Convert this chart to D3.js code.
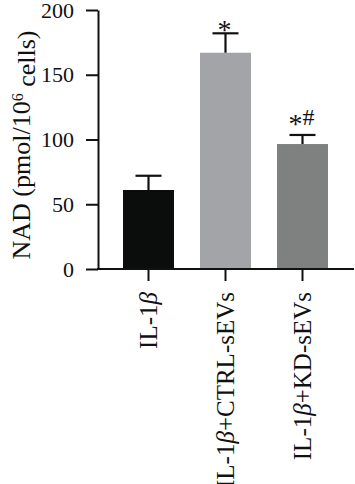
<!DOCTYPE html>
<html>
<head>
<meta charset="utf-8">
<script src="https://cdn.jsdelivr.net/npm/d3@7"></script>
<style>
  body { margin: 0; background: #fff; }
  svg { display: block; font-family: "Liberation Serif", "DejaVu Serif", serif; }
</style>
</head>
<body>
<div id="chart"></div>
<script>
// data
const categories = ["IL-1β", "IL-1β+CTRL-sEVs", "IL-1β+KD-sEVs"];
const means = [61, 167, 96.5];
const errors = [11, 15, 7];
const marks = ["", "*", "*#"];
const yTicks = [0, 50, 100, 150, 200];
const barColors = ["#0b0d0d", "#a2a4a7", "#7f8180"];

const width = 355, height = 484;

const svg = d3.select("#chart").append("svg")
  .attr("width", width)
  .attr("height", height);

const y = d3.scaleLinear().domain([0, 200]).range([269, 10]);

const x = d3.scaleBand()
  .domain(categories)
  .range([110, 341])
  .paddingInner(0.338)
  .paddingOuter(0.169);

// bars
svg.selectAll("rect.bar")
  .data(categories)
  .join("rect")
  .attr("class", "bar")
  .attr("x", d => x(d))
  .attr("width", x.bandwidth())
  .attr("y", (d, i) => y(means[i]))
  .attr("height", (d, i) => y(0) - y(means[i]))
  .attr("fill", (d, i) => barColors[i]);

// error bars (upper only)
const capW = 26;
const err = svg.selectAll("g.err")
  .data(categories)
  .join("g")
  .attr("class", "err")
  .attr("stroke", "#111")
  .attr("stroke-width", 2.2);

err.append("line")
  .attr("x1", d => x(d) + x.bandwidth() / 2)
  .attr("x2", d => x(d) + x.bandwidth() / 2)
  .attr("y1", (d, i) => y(means[i]))
  .attr("y2", (d, i) => y(means[i] + errors[i]));

err.append("line")
  .attr("x1", d => x(d) + x.bandwidth() / 2 - capW / 2)
  .attr("x2", d => x(d) + x.bandwidth() / 2 + capW / 2)
  .attr("y1", (d, i) => y(means[i] + errors[i]))
  .attr("y2", (d, i) => y(means[i] + errors[i]));

// significance marks; the asterisk glyph is dropped a bit so it sits on the baseline
svg.selectAll("text.mark")
  .data(categories)
  .join("text")
  .attr("class", "mark")
  .attr("x", d => x(d) + x.bandwidth() / 2 - 1)
  .attr("y", (d, i) => y(means[i] + errors[i]) + (marks[i].includes("#") ? -10 : -2))
  .attr("text-anchor", "middle")
  .attr("fill", "#111")
  .each(function(d, i) {
    const t = d3.select(this);
    let shift = 0;
    marks[i].split("").forEach(c => {
      const s = c === "*" ? 8 : 0;
      t.append("tspan")
        .attr("dy", s - shift)
        .style("font-size", c === "*" ? "28px" : "24px")
        .text(c);
      shift = s;
    });
  });

// y axis
const yAxis = svg.append("g")
  .attr("transform", "translate(98,0)")
  .call(d3.axisLeft(y).tickValues(yTicks).tickSize(12).tickSizeOuter(0).tickPadding(12));
yAxis.selectAll("path, line").attr("stroke", "#111").attr("stroke-width", 2);
yAxis.selectAll("text").style("font-size", "22px").attr("fill", "#111")
  .style("font-family", "Liberation Serif, serif");

// x axis
const xAxis = svg.append("g")
  .attr("transform", "translate(0,269)")
  .call(d3.axisBottom(x).tickSize(12).tickSizeOuter(0).tickFormat(""));
xAxis.select(".domain").remove();
xAxis.selectAll("line").attr("stroke", "#111").attr("stroke-width", 2);
svg.append("line")
  .attr("x1", 97).attr("x2", 354)
  .attr("y1", 269).attr("y2", 269)
  .attr("stroke", "#111").attr("stroke-width", 2);

// category labels, rotated, with italic beta
svg.selectAll("text.cat")
  .data(categories)
  .join("text")
  .attr("class", "cat")
  .attr("transform", d => `translate(${x(d) + x.bandwidth() / 2},292) rotate(-90)`)
  .attr("dy", "0.35em")
  .attr("text-anchor", "end")
  .style("font-size", "25px")
  .attr("fill", "#111")
  .each(function(d) {
    const t = d3.select(this);
    const parts = d.split("β");
    parts.forEach((p, k) => {
      if (k > 0) t.append("tspan").style("font-style", "italic").text("β");
      if (p) t.append("tspan").text(p);
    });
  });

// y axis title
const title = svg.append("text")
  .attr("transform", "translate(30,145) rotate(-90)")
  .attr("text-anchor", "middle")
  .style("font-size", "26px")
  .attr("fill", "#111");
title.append("tspan").text("NAD (pmol/10");
title.append("tspan").attr("dy", "-0.45em").style("font-size", "16px").text("6");
title.append("tspan").attr("dy", "0.45em").text(" cells)");
</script>
</body>
</html>
